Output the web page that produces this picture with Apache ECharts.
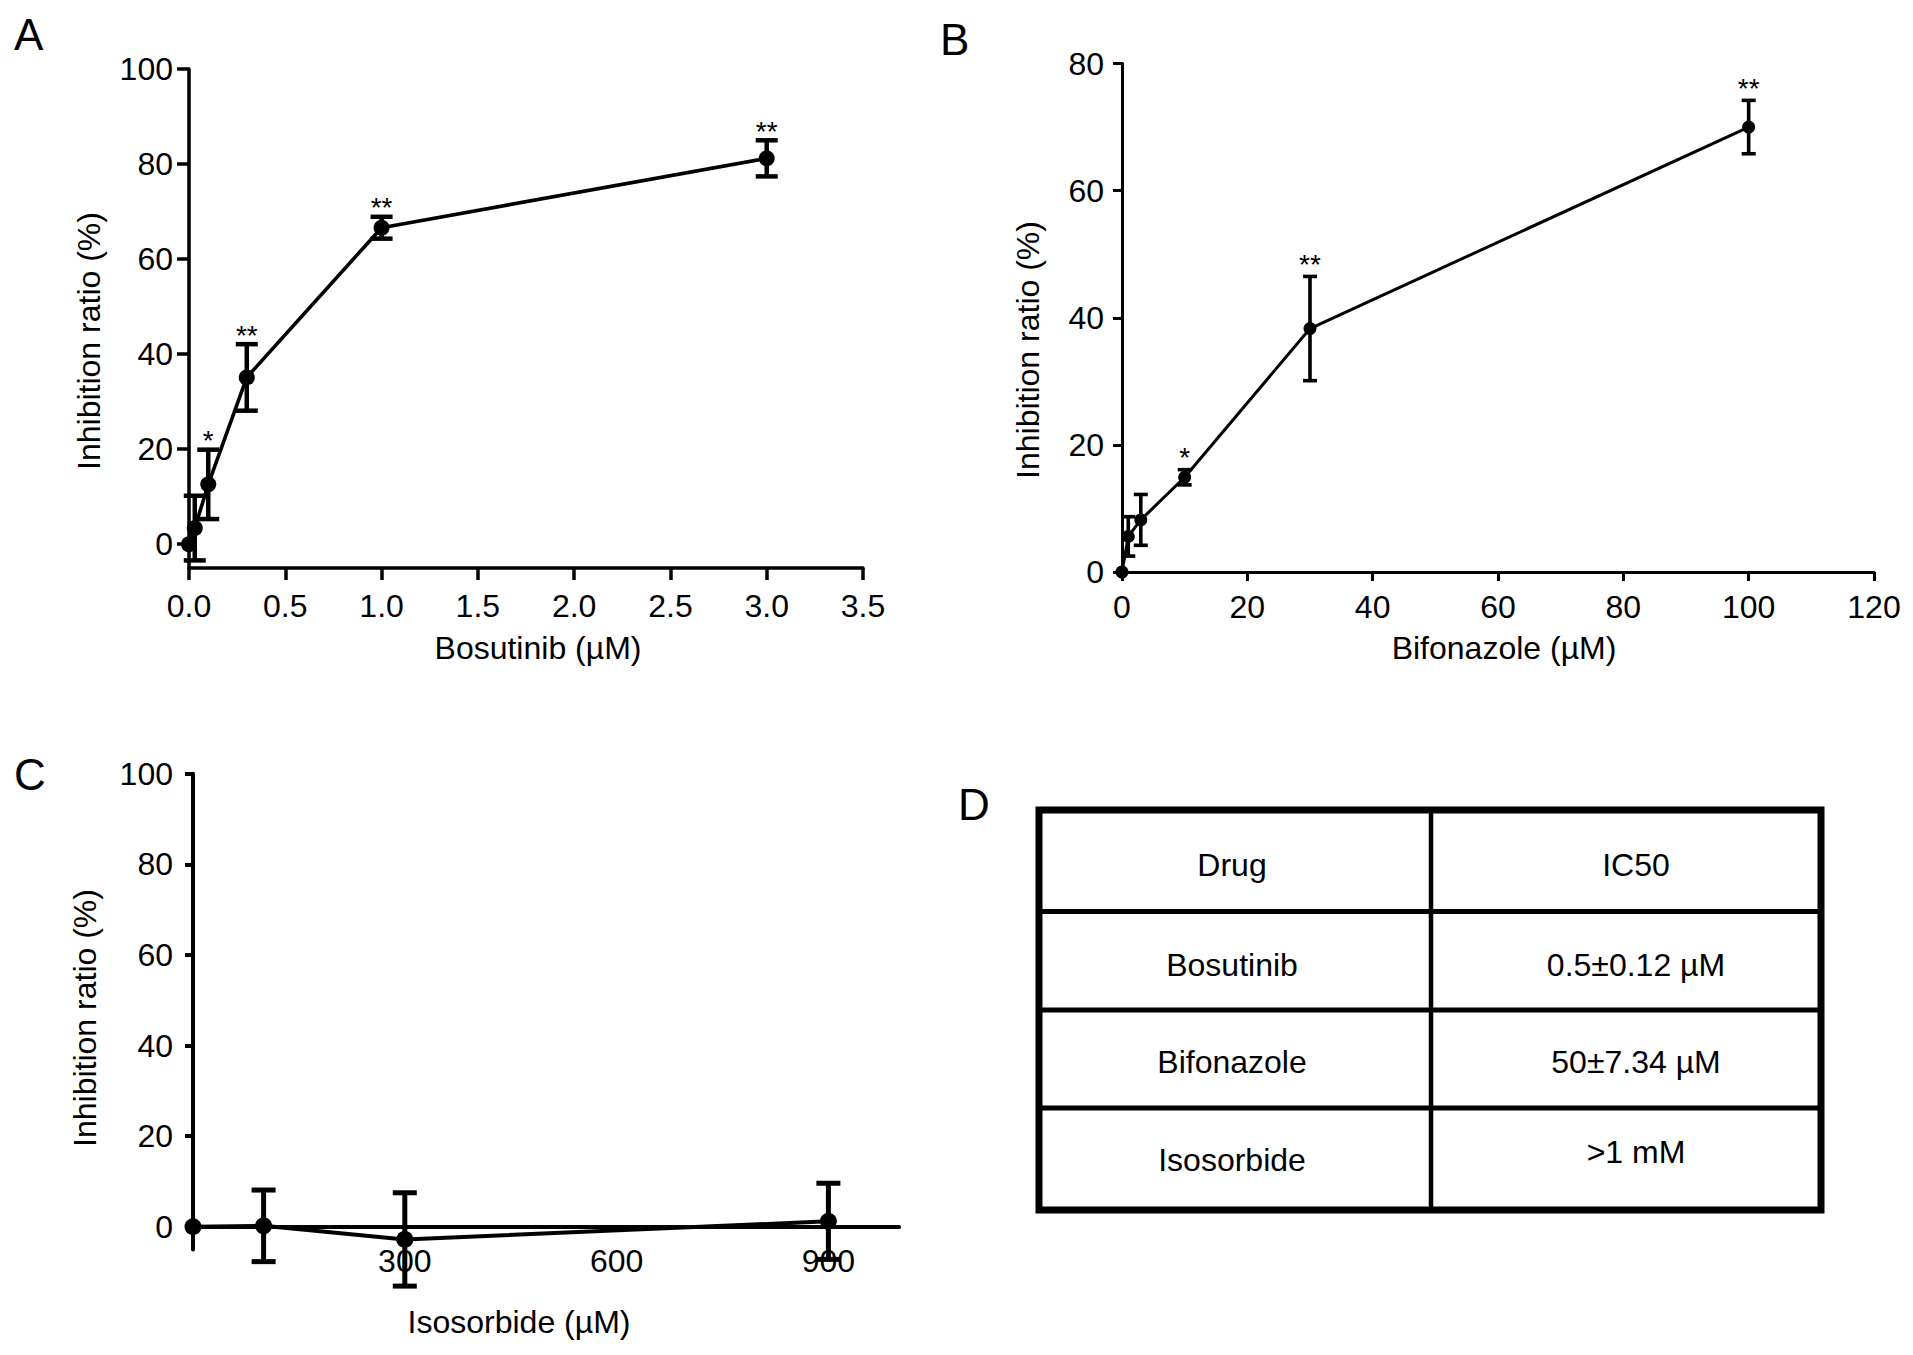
<!DOCTYPE html>
<html>
<head>
<meta charset="utf-8">
<script src="https://cdn.jsdelivr.net/npm/echarts@6/dist/echarts.min.js"></script>
<style>
html,body{margin:0;padding:0;background:#fff;}
#chart{width:1913px;height:1355px;}
</style>
</head>
<body>
<div id="chart"></div>
<script>
// ---- Data ----
const bosutinibDose = [0, 0.03, 0.1, 0.3, 1, 3];
const bosutinibMean = [0, 3.4, 12.6, 35.1, 66.6, 81.2];
const bosutinibErr  = [0, 6.8, 7.3, 7.0, 2.3, 3.8];
const bosutinibSig  = ['', '', '*', '**', '**', '**'];

const bifonazoleDose = [0, 1, 3, 10, 30, 100];
const bifonazoleMean = [0, 5.6, 8.2, 14.9, 38.3, 70.0];
const bifonazoleErr  = [0, 3.1, 4.0, 1.2, 8.2, 4.2];
const bifonazoleSig  = ['', '', '', '*', '**', '**'];

const isosorbideDose = [0, 100, 300, 900];
const isosorbideMean = [0, 0.2, -2.8, 1.2];
const isosorbideErr  = [0, 7.9, 10.3, 8.4];

const yTicks100 = [0, 20, 40, 60, 80, 100];
const isoXTicks = [300, 600, 900];

const tableHeader = ['Drug', 'IC50'];
const tableRows = [
  ['Bosutinib', '0.5\u00B10.12 \u00B5M'],
  ['Bifonazole', '50\u00B17.34 \u00B5M'],
  ['Isosorbide', '>1 mM']
];

// ---- Helpers ----
const FONT = '"Liberation Sans", Arial, Helvetica, sans-serif';
const INK = '#000';

function pairs(xs, ys) { return xs.map((x, i) => [x, ys[i]]); }
function errData(xs, m, e) {
  const out = [];
  xs.forEach((x, i) => { if (e[i] > 0) out.push([x, m[i] - e[i], m[i] + e[i]]); });
  return out;
}
function sigPoints(xs, m, e, s) {
  const pts = [], labels = [];
  xs.forEach((x, i) => { if (s[i]) { pts.push([x, m[i] + e[i]]); labels.push(s[i]); } });
  return { pts: pts, labels: labels };
}
function errRender(capHalf, lw) {
  return function (params, api) {
    const x = api.value(0);
    const pLo = api.coord([x, api.value(1)]);
    const pHi = api.coord([x, api.value(2)]);
    const st = { stroke: '#000', lineWidth: lw, fill: null };
    return {
      type: 'group',
      children: [
        { type: 'line', shape: { x1: pLo[0], y1: pLo[1], x2: pHi[0], y2: pHi[1] }, style: st },
        { type: 'line', shape: { x1: pHi[0] - capHalf, y1: pHi[1], x2: pHi[0] + capHalf, y2: pHi[1] }, style: st },
        { type: 'line', shape: { x1: pLo[0] - capHalf, y1: pLo[1], x2: pLo[0] + capHalf, y2: pLo[1] }, style: st }
      ]
    };
  };
}
function sigRender(labels, offset) {
  return function (params, api) {
    const p = api.coord([api.value(0), api.value(1)]);
    return {
      type: 'text',
      x: p[0], y: p[1] - offset,
      style: {
        text: labels[params.dataIndex],
        fill: INK,
        fontSize: 28, fontFamily: FONT,
        textAlign: 'center', textVerticalAlign: 'middle',
        align: 'center', verticalAlign: 'middle'
      }
    };
  };
}
function axisCommon(lw, tickLen) {
  return {
    axisLine: { show: true, onZero: false, lineStyle: { color: '#000', width: lw } },
    axisTick: { show: true, length: tickLen, lineStyle: { color: '#000', width: lw } },
    splitLine: { show: false }
  };
}
function labelStyle(margin) {
  return { color: INK, fontSize: 32, fontFamily: FONT, margin: margin };
}

const sigA = sigPoints(bosutinibDose, bosutinibMean, bosutinibErr, bosutinibSig);
const sigB = sigPoints(bifonazoleDose, bifonazoleMean, bifonazoleErr, bifonazoleSig);

const chart = echarts.init(document.getElementById('chart'), null, { renderer: 'svg' });

// titles & table graphics
const graphics = [];
function addText(text, x, y, size, rot, align, vAlign) {
  graphics.push({
    type: 'text', x: x, y: y, rotation: rot || 0,
    style: { text: text, fill: INK, fontSize: size, fontFamily: FONT,
      textAlign: align || 'center', textVerticalAlign: vAlign || 'middle',
      align: align || 'center', verticalAlign: vAlign || 'middle' },
    z: 10
  });
}
// panel letters
addText('A', 14, 12, 44, 0, 'left', 'top');
addText('B', 940, 17, 44, 0, 'left', 'top');
addText('C', 14, 752, 44, 0, 'left', 'top');
addText('D', 958, 782, 44, 0, 'left', 'top');
// axis titles
addText('Bosutinib (\u00B5M)', 538, 648, 32);
addText('Inhibition ratio (%)', 89, 341, 32, Math.PI / 2);
addText('Bifonazole (\u00B5M)', 1504, 648, 32);
addText('Inhibition ratio (%)', 1028, 350, 32, Math.PI / 2);
addText('Isosorbide (\u00B5M)', 519, 1322, 32);
addText('Inhibition ratio (%)', 85, 1018, 32, Math.PI / 2);

// table D
const tbl = { left: 1039, top: 810, right: 1821, bottom: 1210, split: 1431,
  rowLines: [911.5, 1010, 1108], colCenters: [1232, 1636],
  rowCenters: [865, 965, 1062, 1160] };
graphics.push({ type: 'rect', shape: { x: tbl.left, y: tbl.top, width: tbl.right - tbl.left, height: tbl.bottom - tbl.top },
  style: { fill: 'none', stroke: '#000', lineWidth: 7 }, z: 10 });
graphics.push({ type: 'line', shape: { x1: tbl.split, y1: tbl.top, x2: tbl.split, y2: tbl.bottom },
  style: { stroke: '#000', lineWidth: 4.5 }, z: 10 });
tbl.rowLines.forEach(y => graphics.push({ type: 'line', shape: { x1: tbl.left, y1: y, x2: tbl.right, y2: y },
  style: { stroke: '#000', lineWidth: 5 }, z: 10 }));
const allRows = [tableHeader].concat(tableRows);
allRows.forEach((row, r) => {
  row.forEach((cell, c) => {
    let y = tbl.rowCenters[r];
    if (cell === '>1 mM') y -= 8;
    addText(cell, tbl.colCenters[c], y, 32);
  });
});

const option = {
  backgroundColor: '#fff',
  animation: false,
  grid: [
    { left: 189, top: 69, width: 674, height: 499 },
    { left: 1122, top: 63.5, width: 752, height: 508.5 },
    { left: 193, top: 773.7, width: 706, height: 475.7 }
  ],
  xAxis: [
    Object.assign({ gridIndex: 0, type: 'value', min: 0, max: 3.5, interval: 0.5,
      axisLabel: Object.assign(labelStyle(22), { formatter: v => v.toFixed(1) }) }, axisCommon(3.5, 12)),
    Object.assign({ gridIndex: 1, type: 'value', min: 0, max: 120, interval: 20,
      axisLabel: labelStyle(19) }, axisCommon(3, 9)),
    { gridIndex: 2, type: 'value', min: 0, max: 1000,
      axisLine: { show: true, onZero: true, lineStyle: { color: '#000', width: 4 } },
      axisTick: { show: false },
      splitLine: { show: false },
      axisLabel: Object.assign(labelStyle(-4), { customValues: isoXTicks }) }
  ],
  yAxis: [
    Object.assign({ gridIndex: 0, type: 'value', min: -5, max: 100,
      axisLabel: Object.assign(labelStyle(16), { customValues: yTicks100 }) }, axisCommon(3.5, 12),
      { axisTick: { show: true, length: 12, customValues: yTicks100, lineStyle: { color: '#000', width: 3.5 } } }),
    Object.assign({ gridIndex: 1, type: 'value', min: 0, max: 80, interval: 20,
      axisLabel: labelStyle(18) }, axisCommon(3, 9)),
    Object.assign({ gridIndex: 2, type: 'value', min: -5, max: 100,
      axisLabel: Object.assign(labelStyle(20), { customValues: yTicks100 }) }, axisCommon(4, 8),
      { axisTick: { show: true, length: 8, customValues: yTicks100, lineStyle: { color: '#000', width: 4 } } })
  ],
  series: [
    { type: 'line', xAxisIndex: 0, yAxisIndex: 0, data: pairs(bosutinibDose, bosutinibMean),
      symbol: 'circle', symbolSize: 16, clip: false, itemStyle: { color: '#000' },
      lineStyle: { color: '#000', width: 3.6 }, z: 3 },
    { type: 'custom', xAxisIndex: 0, yAxisIndex: 0, data: errData(bosutinibDose, bosutinibMean, bosutinibErr),
      renderItem: errRender(11, 4.5), clip: false, z: 4 },
    { type: 'custom', xAxisIndex: 0, yAxisIndex: 0, data: sigA.pts,
      renderItem: sigRender(sigA.labels, 9), clip: false, z: 5 },

    { type: 'line', xAxisIndex: 1, yAxisIndex: 1, data: pairs(bifonazoleDose, bifonazoleMean),
      symbol: 'circle', symbolSize: 13, clip: false, itemStyle: { color: '#000' },
      lineStyle: { color: '#000', width: 3 }, z: 3 },
    { type: 'custom', xAxisIndex: 1, yAxisIndex: 1, data: errData(bifonazoleDose, bifonazoleMean, bifonazoleErr),
      renderItem: errRender(7, 3.6), clip: false, z: 4 },
    { type: 'custom', xAxisIndex: 1, yAxisIndex: 1, data: sigB.pts,
      renderItem: sigRender(sigB.labels, 12), clip: false, z: 5 },

    { type: 'line', xAxisIndex: 2, yAxisIndex: 2, data: pairs(isosorbideDose, isosorbideMean),
      symbol: 'circle', symbolSize: 17, clip: false, itemStyle: { color: '#000' },
      lineStyle: { color: '#000', width: 4 }, z: 3 },
    { type: 'custom', xAxisIndex: 2, yAxisIndex: 2, data: errData(isosorbideDose, isosorbideMean, isosorbideErr),
      renderItem: errRender(12, 5), clip: false, z: 4 }
  ],
  graphic: graphics
};
chart.setOption(option);
</script>
</body>
</html>
